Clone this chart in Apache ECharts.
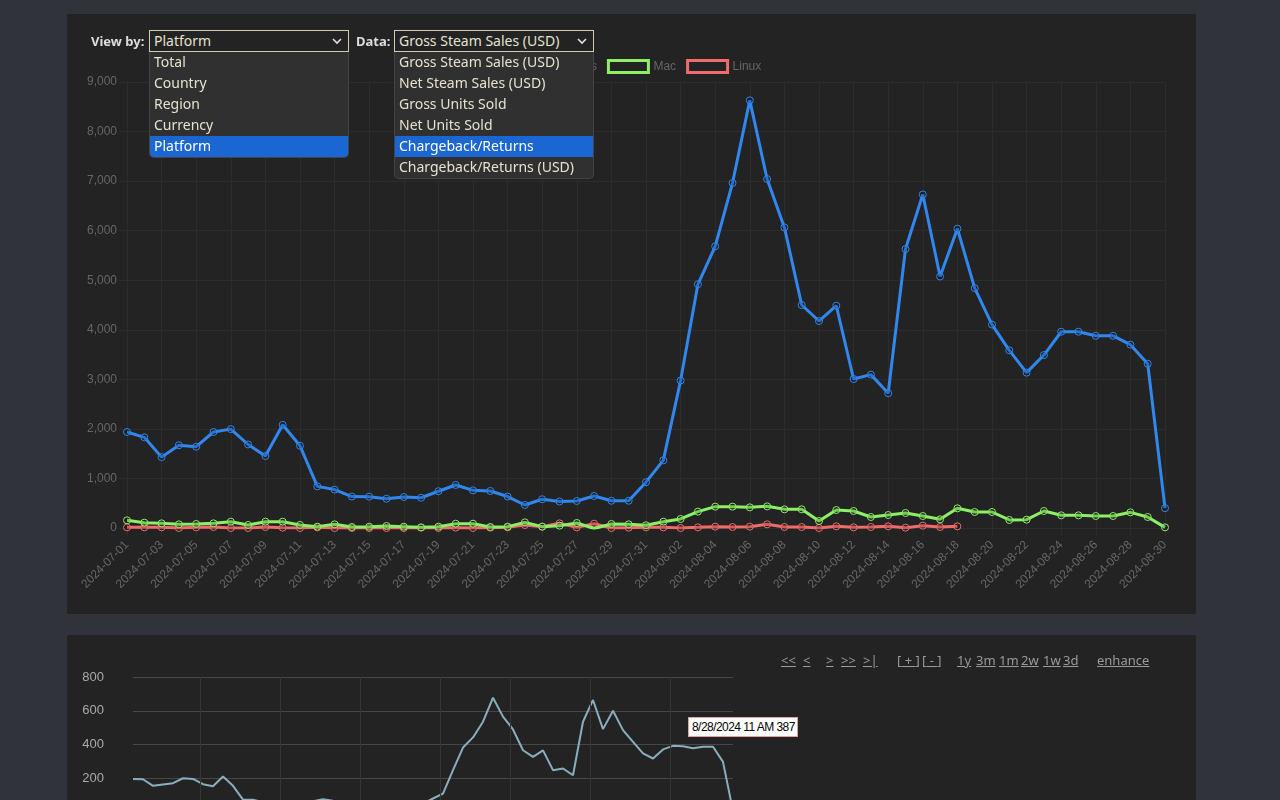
<!DOCTYPE html>
<html lang="en">
<head>
<meta charset="UTF-8" />
<title>Sales by platform</title>
<script src="https://cdn.jsdelivr.net/npm/echarts@6/dist/echarts.min.js"></script>
<style>
  html, body { margin: 0; padding: 0; width: 1280px; height: 800px; overflow: hidden; background: #30333a; font-family: "Noto Sans", "Open Sans", sans-serif; }
  .card { position: absolute; left: 67px; width: 1129px; background: #232323; border-radius: 2px; overflow: hidden; }
  #mainCard { top: 14px; height: 600px; }
  #subCard { top: 635px; height: 300px; }
  #mainChart { position: absolute; left: 0; top: 0; width: 1129px; height: 600px; }
  #subChart { position: absolute; left: 0; top: 0; width: 1129px; height: 300px; }

  .lbl { position: absolute; top: 18px; font-size: 13px; font-weight: bold; color: #ddd; line-height: 18px; }
  .sel { position: absolute; top: 16px; width: 200px; height: 22px; box-sizing: border-box; border: 1px solid #cfcbb5;
         background: #232323; color: #e6e2cf; font-size: 14px; line-height: 19px; padding-left: 4px; z-index: 5; }
  .sel svg { position: absolute; right: 6px; top: 7px; }
  .list { position: absolute; top: 38px; width: 200px; box-sizing: border-box; background: #303030; border: 1px solid #444;
          border-top: none; border-radius: 0 0 5px 5px; z-index: 5; overflow: hidden; }
  .list div { height: 21px; line-height: 20px; font-size: 14px; color: #e6e2cf; padding-left: 4px; white-space: nowrap; }
  .list div.on { background: #1a66d2; color: #fff; }

  .nav { position: absolute; top: 16px; font-size: 13px; line-height: 18px; color: #9a9a9a; }
  .nav u { text-decoration: underline; }
  .hover { position: absolute; left: 621px; top: 82px; width: 110px; height: 20px; box-sizing: border-box; background: #fff;
           border: 1px solid #e3a0a0; font-family: "Liberation Sans", Arial, sans-serif; font-size: 12px; line-height: 18px;
           color: #000; padding-left: 3px; letter-spacing: -0.55px; white-space: nowrap; }
</style>
</head>
<body>
<div class="card" id="mainCard">
  <div id="mainChart"></div>

  <div class="lbl" style="left:24px">View by:</div>
  <div class="sel" style="left:82px">Platform
    <svg width="10" height="7"><polyline points="1,1 5,5 9,1" fill="none" stroke="#e6e2cf" stroke-width="1.6"/></svg>
  </div>
  <div class="list" id="viewList" style="left:82px"></div>

  <div class="lbl" style="left:289px">Data:</div>
  <div class="sel" style="left:327px">Gross Steam Sales (USD)
    <svg width="10" height="7"><polyline points="1,1 5,5 9,1" fill="none" stroke="#e6e2cf" stroke-width="1.6"/></svg>
  </div>
  <div class="list" id="dataList" style="left:327px"></div>
</div>

<div class="card" id="subCard">
  <div id="subChart"></div>
  <div class="nav" style="left:714px"><u>&lt;&lt;</u></div>
  <div class="nav" style="left:736px"><u>&lt;</u></div>
  <div class="nav" style="left:759px"><u>&gt;</u></div>
  <div class="nav" style="left:774px"><u>&gt;&gt;</u></div>
  <div class="nav" style="left:796px"><u>&gt;|</u></div>
  <div class="nav" style="left:830px">[<u>&nbsp;+&nbsp;</u>]</div>
  <div class="nav" style="left:855px">[<u>&nbsp;-&nbsp;</u>]</div>
  <div class="nav" style="left:890px"><u>1y</u></div>
  <div class="nav" style="left:909px"><u>3m</u></div>
  <div class="nav" style="left:932px"><u>1m</u></div>
  <div class="nav" style="left:954px"><u>2w</u></div>
  <div class="nav" style="left:976px"><u>1w</u></div>
  <div class="nav" style="left:996px"><u>3d</u></div>
  <div class="nav" style="left:1030px"><u>enhance</u></div>
  <div class="hover">8/28/2024 11 AM 387</div>
</div>

<script>
  // dropdown contents
  const viewOptions = ['Total', 'Country', 'Region', 'Currency', 'Platform']
  const dataOptions = ['Gross Steam Sales (USD)', 'Net Steam Sales (USD)', 'Gross Units Sold', 'Net Units Sold', 'Chargeback/Returns', 'Chargeback/Returns (USD)']

  // daily categories
  const days = [
    '2024-07-01', '2024-07-02', '2024-07-03', '2024-07-04', '2024-07-05', '2024-07-06', '2024-07-07', '2024-07-08',
    '2024-07-09', '2024-07-10', '2024-07-11', '2024-07-12', '2024-07-13', '2024-07-14', '2024-07-15', '2024-07-16',
    '2024-07-17', '2024-07-18', '2024-07-19', '2024-07-20', '2024-07-21', '2024-07-22', '2024-07-23', '2024-07-24',
    '2024-07-25', '2024-07-26', '2024-07-27', '2024-07-28', '2024-07-29', '2024-07-30', '2024-07-31', '2024-08-01',
    '2024-08-02', '2024-08-03', '2024-08-04', '2024-08-05', '2024-08-06', '2024-08-07', '2024-08-08', '2024-08-09',
    '2024-08-10', '2024-08-11', '2024-08-12', '2024-08-13', '2024-08-14', '2024-08-15', '2024-08-16', '2024-08-17',
    '2024-08-18', '2024-08-19', '2024-08-20', '2024-08-21', '2024-08-22', '2024-08-23', '2024-08-24', '2024-08-25',
    '2024-08-26', '2024-08-27', '2024-08-28', '2024-08-29', '2024-08-30'
  ]

  const seriesNames = ['Windows', 'Mac', 'Linux']
  const windows = [1937, 1830, 1430, 1670, 1640, 1937, 1995, 1685, 1453, 2082, 1660, 840, 775, 635, 632, 590, 625, 610, 742, 868,
    760, 747, 635, 464, 580, 535, 545, 646, 550, 550, 925, 1365, 2975, 4918, 5685, 6961, 8630, 7042, 6065, 4500,
    4177, 4485, 3006, 3095, 2720, 5630, 6730, 5075, 6040, 4840, 4105, 3585, 3135, 3490, 3960, 3960, 3878, 3878, 3700, 3315, 400]
  const mac = [155, 108, 94, 74, 81, 94, 128, 61, 128, 128, 61, 27, 74, 20, 27, 40, 27, 13, 27, 87,
    87, 20, 27, 114, 27, 47, 101, -10, 81, 74, 55, 128, 182, 330, 431, 431, 417, 437, 377, 377,
    141, 363, 343, 222, 262, 303, 242, 175, 397, 323, 323, 162, 168, 343, 256, 256, 242, 242, 316, 222, 13]
  const linux = [13, 13, 13, 0, 13, 20, 0, 0, 20, 7, 0, 13, 0, 0, 0, 0, 0, 7, 0, 7,
    0, 7, 13, 60, 27, 94, 13, 87, 0, 7, 13, 13, 0, 13, 27, 20, 27, 74, 20, 20,
    0, 34, 13, 20, 34, 7, 47, 20, 34, null, null, null, null, null, null, null, null, null, null, null, null]

  // overview strip underneath (same days, units)
  const overview = [196, 194, 155, 163, 171, 200, 196, 165, 153, 210, 155, 73, 73, 58, 57, 54, 56, 55, 64, 75,
    66, 65, 57, 42, 52, 48, 50, 58, 50, 50, 80, 109, 248, 382, 442, 535, 677, 565, 489, 366,
    327, 365, 248, 258, 218, 535, 664, 491, 600, 485, 416, 347, 317, 371, 392, 390, 378, 386, 387, 297, 5]
  const overviewTicks = [6.74, 14.77, 22.73, 30.72, 37.75, 45.75, 53.74]

  const colors = ['#3087ef', '#8cef66', '#f06b6b']
  const gridColor = '#2c2c2c'

  function fillList(id, items, selected) {
    const el = document.getElementById(id)
    items.forEach(t => {
      const d = document.createElement('div')
      d.textContent = t
      if (t === selected) d.className = 'on'
      el.appendChild(d)
    })
  }
  fillList('viewList', viewOptions, 'Platform')
  fillList('dataList', dataOptions, 'Chargeback/Returns')

  const mainChart = echarts.init(document.getElementById('mainChart'))
  const values = [windows, mac, linux]
  mainChart.setOption({
    animation: false,
    textStyle: { fontFamily: '"Liberation Sans", Arial, sans-serif' },
    legend: {
      top: 40,
      left: 'center',
      itemWidth: 40,
      itemHeight: 12,
      itemGap: 10,
      textStyle: { color: '#666', fontSize: 12 },
      data: seriesNames.map((n, k) => ({
        name: n,
        icon: 'rect',
        itemStyle: { color: 'rgba(0,0,0,0)', borderColor: colors[k], borderWidth: 3 }
      }))
    },
    grid: { left: 60, right: 31, top: 68, bottom: 86 },
    xAxis: {
      type: 'category',
      data: days,
      boundaryGap: false,
      axisLine: { show: false },
      axisTick: { show: true, interval: 1, length: 8, lineStyle: { color: gridColor } },
      axisLabel: { interval: 1, rotate: 45, color: '#666', fontSize: 12, margin: 15 },
      splitLine: { show: true, interval: 1, lineStyle: { color: gridColor } }
    },
    yAxis: {
      type: 'value',
      min: 0,
      max: 9000,
      interval: 1000,
      axisLine: { show: true, lineStyle: { color: gridColor } },
      axisTick: { show: true, length: 8, lineStyle: { color: gridColor } },
      axisLabel: { color: '#666', fontSize: 12, margin: 10, formatter: v => v.toLocaleString('en-US') },
      splitLine: { lineStyle: { color: gridColor } }
    },
    series: seriesNames.map((n, k) => ({
      name: n,
      type: 'line',
      data: values[k],
      z: 4 - k,
      symbol: 'circle',
      symbolSize: 7,
      showAllSymbol: true,
      connectNulls: false,
      lineStyle: { color: colors[k], width: 3 },
      itemStyle: { color: 'rgba(0,0,0,0.15)', borderColor: colors[k], borderWidth: 1 }
    }))
  })

  const subChart = echarts.init(document.getElementById('subChart'))
  subChart.setOption({
    animation: false,
    textStyle: { fontFamily: '"Liberation Sans", Arial, sans-serif' },
    grid: { left: 66, top: 42, width: 600, height: 135 },
    xAxis: { type: 'value', min: 0, max: overview.length - 1, show: false },
    yAxis: {
      type: 'value',
      min: 0,
      max: 800,
      interval: 200,
      axisLine: { show: false },
      axisTick: { show: false },
      axisLabel: { color: '#aaa', fontSize: 13, margin: 29 },
      splitLine: { lineStyle: { color: '#474747' } }
    },
    series: [{
      type: 'line',
      data: overview.map((v, i) => [i, v]),
      symbol: 'none',
      lineStyle: { color: '#8aaebe', width: 2 },
      markLine: {
        silent: true,
        symbol: 'none',
        label: { show: false },
        lineStyle: { color: '#363636', width: 1, type: 'solid' },
        data: overviewTicks.map(t => ({ xAxis: t }))
      }
    }]
  })
</script>
</body>
</html>
